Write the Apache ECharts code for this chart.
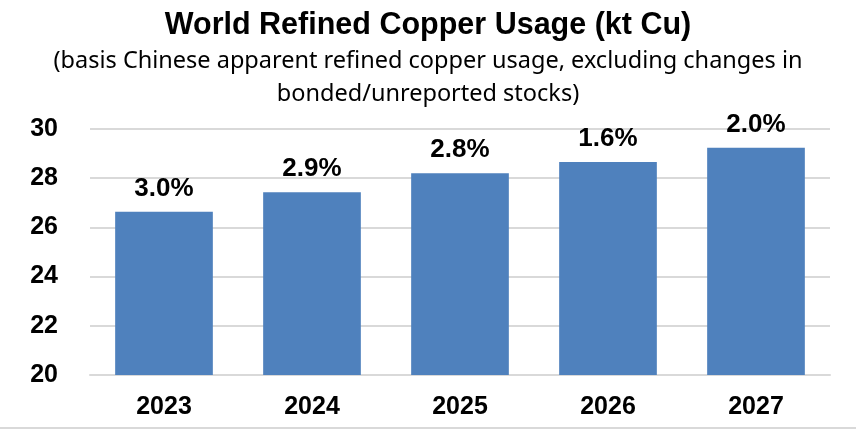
<!DOCTYPE html>
<html>
<head>
<meta charset="utf-8">
<script src="https://cdn.jsdelivr.net/npm/echarts@6/dist/echarts.min.js"></script>
<style>
  html, body { margin: 0; padding: 0; background: #fff; }
  #main { width: 856px; height: 435px; }
</style>
</head>
<body>
<div id="main"></div>
<script>
// years and usage
var years = ['2023', '2024', '2025', '2026', '2027'];
var usage = [26.64, 27.43, 28.2, 28.66, 29.24];
var growth = ['3.0%', '2.9%', '2.8%', '1.6%', '2.0%'];
var yTicks = [20, 22, 24, 26, 28, 30];

var myChart = echarts.init(document.getElementById('main'));
var option = {
    backgroundColor: '#fff',
    title: {
        text: 'World Refined Copper Usage (kt Cu)',
        subtext: '(basis Chinese apparent refined copper usage, excluding changes in\nbonded/unreported stocks)',
        left: 'center',
        top: 5,
        itemGap: 4,
        textStyle: {
            fontFamily: 'Liberation Sans, Arial, sans-serif',
            fontWeight: 'bold',
            fontSize: 30.5,
            color: '#000'
        },
        subtextStyle: {
            fontFamily: 'Noto Sans, sans-serif',
            fontSize: 23.5,
            lineHeight: 33,
            color: '#000'
        }
    },
    grid: { left: 90, right: 26, top: 129, bottom: 60 },
    xAxis: {
        type: 'category',
        data: years,
        axisLine: { lineStyle: { color: '#d9d9d9', width: 2 } },
        axisTick: { show: false },
        axisLabel: {
            margin: 20,
            fontFamily: 'Liberation Sans, Arial, sans-serif',
            fontWeight: 'bold',
            fontSize: 25,
            color: '#000'
        }
    },
    yAxis: {
        type: 'value',
        min: yTicks[0],
        max: yTicks[yTicks.length - 1],
        interval: 2,
        axisLine: { show: false },
        axisTick: { show: false },
        splitLine: { lineStyle: { color: '#d9d9d9', width: 2 } },
        axisLabel: {
            margin: 32,
            fontFamily: 'Liberation Sans, Arial, sans-serif',
            fontWeight: 'bold',
            fontSize: 25,
            color: '#000'
        }
    },
    series: [{
        type: 'bar',
        data: usage,
        barWidth: '66%',
        itemStyle: { color: '#4f81bd' },
        label: {
            show: true,
            position: 'top',
            distance: 10,
            formatter: function (p) { return growth[p.dataIndex]; },
            fontFamily: 'Liberation Sans, Arial, sans-serif',
            fontWeight: 'bold',
            fontSize: 26,
            color: '#000'
        }
    }],
    graphic: [{
        type: 'line',
        shape: { x1: 0, y1: 428, x2: 856, y2: 428 },
        style: { stroke: '#d9d9d9', lineWidth: 2 }
    }]
};
myChart.setOption(option);
</script>
</body>
</html>
